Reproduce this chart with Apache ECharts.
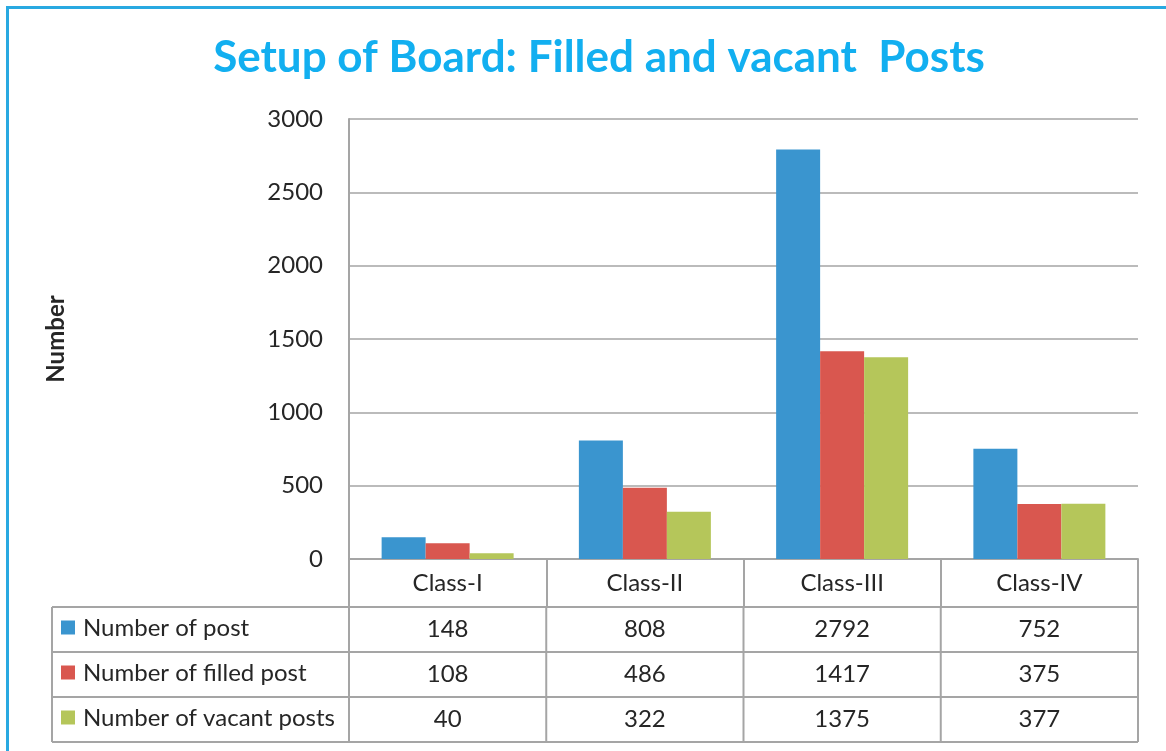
<!DOCTYPE html>
<html lang="en">
<head>
    <meta charset="utf-8"/>
    <title>Setup of Board: Filled and vacant Posts</title>
    <script src="https://cdn.jsdelivr.net/npm/echarts/dist/echarts.min.js"></script>
</head>
<body style="margin: 0; background: #fff;">
<div id="chart" style="width: 1166px; height: 751px;"></div>

<script type="text/javascript">
    var title = "Setup of Board: Filled and vacant  Posts";
    var categories = ["Class-I", "Class-II", "Class-III", "Class-IV"];
    var seriesNames = ["Number of post", "Number of filled post", "Number of vacant posts"];
    var postTotal = [148, 808, 2792, 752];
    var postFilled = [108, 486, 1417, 375];
    var postVacant = [40, 322, 1375, 377];
    var yMin = 0, yMax = 3000, yStep = 500;

    var colors = ["#3a95cf", "#d9574f", "#b5c65a"];
    var lineColor = "#a5a5a5";
    var textColor = "#262626";
    var font = "Lato, 'Open Sans', sans-serif";

    var chart = echarts.init(document.getElementById('chart'));
    var allValues = [postTotal, postFilled, postVacant];

    chart.setOption({
        animation: false,
        title: {
            text: title,
            left: 594,
            top: 31,
            textAlign: 'center',
            textStyle: {color: '#12aff0', fontSize: 44, fontWeight: 'bold', fontFamily: font}
        },
        grid: {left: 349, right: 28, top: 119, bottom: 192},
        xAxis: {
            type: 'category',
            data: categories,
            axisLine: {lineStyle: {color: lineColor, width: 2}},
            axisTick: {show: true, length: 48, lineStyle: {color: lineColor, width: 2}},
            axisLabel: {margin: 12, fontSize: 24, color: textColor, fontFamily: font}
        },
        yAxis: {
            type: 'value',
            min: yMin, max: yMax, interval: yStep,
            name: 'Number',
            nameLocation: 'middle',
            nameRotate: 90,
            nameGap: 281,
            nameTextStyle: {fontSize: 24, fontWeight: 'bold', color: textColor, fontFamily: font},
            axisLine: {show: true, lineStyle: {color: lineColor, width: 2}},
            axisTick: {show: false},
            axisLabel: {margin: 26, fontSize: 24, color: textColor, fontFamily: font,
                formatter: function (v) { return String(v); }},
            splitLine: {lineStyle: {color: lineColor, width: 1.5}}
        },
        series: seriesNames.map(function (name, i) {
            return {
                name: name,
                type: 'bar',
                data: allValues[i],
                barWidth: 44,
                barGap: '0%',
                itemStyle: {color: colors[i]}
            };
        })
    });

    // data table under the plot, placed from the category axis
    var c0 = chart.convertToPixel({xAxisIndex: 0}, categories[0]);
    var c1 = chart.convertToPixel({xAxisIndex: 0}, categories[1]);
    var band = c1 - c0;
    var plotLeft = c0 - band / 2;
    var plotRight = plotLeft + band * categories.length;
    var yZero = chart.convertToPixel({yAxisIndex: 0}, 0);
    var headH = 48, rowH = 45, tableLeft = 52;
    var tableTop = yZero + headH;
    var tableBottom = tableTop + rowH * seriesNames.length;

    var els = [];
    function hline(y, x1, x2, color, w) {
        els.push({type: 'line', shape: {x1: x1, y1: y, x2: x2, y2: y},
            style: {stroke: color || lineColor, lineWidth: w || 2}, silent: true});
    }
    function vline(x, y1, y2, color, w) {
        els.push({type: 'line', shape: {x1: x, y1: y1, x2: x, y2: y2},
            style: {stroke: color || lineColor, lineWidth: w || 2}, silent: true});
    }

    for (var r = 0; r <= seriesNames.length; r++) {
        hline(tableTop + r * rowH, tableLeft, plotRight);
    }
    vline(tableLeft, tableTop, tableBottom);
    for (var k = 0; k <= categories.length; k++) {
        vline(plotLeft + k * band, tableTop, tableBottom);
    }

    seriesNames.forEach(function (name, i) {
        var cy = tableTop + i * rowH + rowH / 2;
        els.push({type: 'rect', shape: {x: 61, y: cy - 9, width: 14, height: 14},
            style: {fill: colors[i]}, silent: true});
        els.push({type: 'text', style: {text: name, x: 83, y: cy - 1, textVerticalAlign: 'middle',
            fontSize: 24, fontFamily: font, fill: textColor}, silent: true});
        allValues[i].forEach(function (v, j) {
            els.push({type: 'text', style: {text: String(v), x: plotLeft + band * (j + 0.5), y: cy,
                textAlign: 'center', textVerticalAlign: 'middle',
                fontSize: 24, fontFamily: font, fill: textColor}, silent: true});
        });
    });

    // blue frame on the top and left edges
    hline(7.5, 6, 1166, '#29a9e1', 3);
    vline(7.5, 6, 751, '#29a9e1', 3);

    chart.setOption({graphic: els});
</script>
</body>
</html>
